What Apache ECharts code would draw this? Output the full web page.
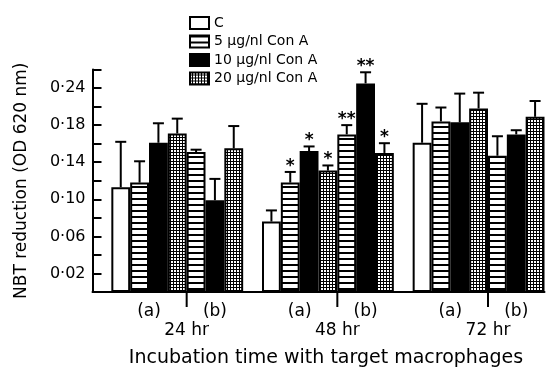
<!DOCTYPE html>
<html><head><meta charset="utf-8">
<script src="https://cdn.jsdelivr.net/npm/echarts@6/dist/echarts.min.js"></script>
<style>html,body{margin:0;padding:0;background:#fff}#c{width:546px;height:373px}</style>
</head><body><div id="c"></div>
<script>
// ---------- data ----------
const timeGroups = ['24 hr', '48 hr', '72 hr'];
const subGroups = ['(a)', '(b)'];
const seriesNames = ['C', '5 \u03bcg/nl Con A', '10 \u03bcg/nl Con A', '20 \u03bcg/nl Con A'];
// order of subgroups: 24a, 24b, 48a, 48b, 72a, 72b
const valC  = [0.113, null, 0.076, null, 0.161, null];
const val5  = [0.118, 0.151, 0.118, 0.170, 0.184, 0.147];
const val10 = [0.161, 0.099, 0.152, 0.225, 0.183, 0.170];
const val20 = [0.171, 0.155, 0.131, 0.150, 0.198, 0.189];
const errC  = [0.049, null, 0.012, null, 0.042, null];
const err5  = [0.023, 0.0025, 0.0115, 0.010, 0.015, 0.021];
const err10 = [0.021, 0.023, 0.005, 0.012, 0.031, 0.0045];
const err20 = [0.016, 0.024, 0.0055, 0.0105, 0.017, 0.017];
const sigC  = ['', '', '', '', '', ''];
const sig5  = ['', '', '*', '**', '', ''];
const sig10 = ['', '', '*', '**', '', ''];
const sig20 = ['', '', '*', '*', '', ''];
const tickValues = [0.02, 0.06, 0.10, 0.14, 0.18, 0.22];
const tickLabels = ['0\u00b702', '0\u00b706', '0\u00b710', '0\u00b714', '0\u00b718', '0\u00b724'];
const yAxisTitle = 'NBT reduction (OD 620 nm)';
const xAxisTitle = 'Incubation time with target macrophages';

// ---------- layout helpers ----------
const FONT = 'DejaVu Sans';
const SLOTS_PER_GROUP = 8; // one empty slot, 4 bars in (a), 3 bars in (b)
const values = [valC, val5, val10, val20];
const errors = [errC, err5, err10, err20];
const sigs = [sigC, sig5, sig10, sig20];
function slotOf(s, sub) {
  const g = Math.floor(sub / 2), part = sub % 2;
  return g * SLOTS_PER_GROUP + (part === 0 ? 1 + s : 4 + s);
}
const nSlots = timeGroups.length * SLOTS_PER_GROUP;
const categories = [];
for (let i = 0; i < nSlots; i++) categories.push('s' + i);

function pattern(kind) {
  const c = document.createElement('canvas');
  const x = c.getContext('2d');
  if (kind === 'stripe') {
    c.width = 4; c.height = 6;
    x.fillStyle = '#fff'; x.fillRect(0, 0, 4, 6);
    x.fillStyle = '#000'; x.fillRect(0, 0, 4, 2);
  } else {
    c.width = 3; c.height = 3;
    x.fillStyle = '#000'; x.fillRect(0, 0, 3, 3);
    x.fillStyle = '#fff'; x.fillRect(0, 0, 2, 2);
  }
  return { image: c, repeat: 'repeat' };
}
const fills = ['#ffffff', pattern('stripe'), '#000000', pattern('grid')];

const barSeries = seriesNames.map((name, s) => {
  const data = new Array(nSlots).fill(null);
  values[s].forEach((v, sub) => { if (v != null) data[slotOf(s, sub)] = v; });
  return {
    type: 'bar', name, data, barWidth: '100%', barGap: '-100%',
    itemStyle: { color: fills[s], borderColor: '#000', borderWidth: 2 },
    z: 2, animation: false
  };
});

const errItems = [];
values.forEach((arr, s) => arr.forEach((v, sub) => {
  if (v != null) errItems.push({ value: [slotOf(s, sub), v, errors[s][sub]], sig: sigs[s][sub] });
}));

const labelItems = [];
timeGroups.forEach((t, g) => {
  labelItems.push({ value: [g * 8 + 1, g * 8 + 4, 0], kind: 'sub', text: subGroups[0] });
  labelItems.push({ value: [g * 8 + 5, g * 8 + 7, 0], kind: 'sub', text: subGroups[1] });
  labelItems.push({ value: [g * 8 + 4, g * 8 + 5, 0], kind: 'group', text: t });
});

const chart = echarts.init(document.getElementById('c'), null, { renderer: 'canvas' });
chart.setOption({
  animation: false,
  backgroundColor: '#fff',
  textStyle: { fontFamily: FONT, color: '#000' },
  grid: { left: 92.5, right: 1.5, top: 69.5, bottom: 80.5, containLabel: false },
  legend: {
    orient: 'vertical', left: 184, top: 11, icon: 'rect',
    itemWidth: 19, itemHeight: 12, itemGap: 4.5,
    data: seriesNames,
    textStyle: { fontFamily: FONT, fontSize: 14, color: '#000', lineHeight: 14 },
    itemStyle: { borderColor: '#000', borderWidth: 2 }
  },
  xAxis: {
    type: 'category', data: categories, boundaryGap: true,
    axisLine: { lineStyle: { color: '#000', width: 2 } },
    axisTick: { show: false }, axisLabel: { show: false },
    name: xAxisTitle, nameLocation: 'middle', nameGap: 57,
    nameTextStyle: { fontFamily: FONT, fontSize: 19, color: '#000', padding: [0, 0, 0, 15] }
  },
  yAxis: {
    type: 'value', min: 0, max: 0.24, interval: 0.02,
    name: yAxisTitle, nameLocation: 'middle', nameGap: 62,
    nameTextStyle: { fontFamily: FONT, fontSize: 17, color: '#000' },
    axisLine: { show: true, lineStyle: { color: '#000', width: 2 } },
    axisTick: { show: true, inside: true, length: 9, lineStyle: { color: '#000', width: 2 } },
    splitLine: { show: false },
    axisLabel: {
      margin: 7, fontFamily: FONT, fontSize: 16, color: '#000',
      formatter: v => { const i = tickValues.findIndex(t => Math.abs(t - v) < 1e-6); return i >= 0 ? tickLabels[i] : ''; }
    }
  },
  series: barSeries.concat([
    {
      type: 'custom', name: 'errors', z: 5, clip: false, animation: false,
      encode: { x: 0, y: 1 }, data: errItems.map(d => d.value),
      renderItem: (params, api) => {
        const item = errItems[params.dataIndex];
        const slot = api.value(0), v = api.value(1), e = api.value(2);
        const p0 = api.coord([slot, v]), p1 = api.coord([slot, v + e]);
        const half = 5.5;
        const ch = [
          { type: 'line', shape: { x1: p0[0], y1: p0[1], x2: p1[0], y2: p1[1] }, style: { stroke: '#000', lineWidth: 2 } },
          { type: 'line', shape: { x1: p1[0] - half, y1: p1[1], x2: p1[0] + half, y2: p1[1] }, style: { stroke: '#000', lineWidth: 2 } }
        ];
        if (item.sig) ch.push({ type: 'text', style: { text: item.sig, x: p1[0], y: p1[1] + 3, align: 'center', verticalAlign: 'bottom', font: 'bold 17px "DejaVu Sans"', fill: '#000' } });
        return { type: 'group', children: ch };
      }
    },
    {
      type: 'custom', name: 'grouplabels', z: 5, clip: false, animation: false, silent: true,
      encode: { x: 0, y: 2 }, data: labelItems.map(d => d.value),
      renderItem: (params, api) => {
        const item = labelItems[params.dataIndex];
        const a = api.coord([api.value(0), 0]), b = api.coord([api.value(1), 0]);
        const cx = (a[0] + b[0]) / 2, y0 = a[1];
        if (item.kind === 'sub') {
          return { type: 'text', style: { text: item.text, x: cx, y: y0 + 20, align: 'center', verticalAlign: 'middle', font: '17px "DejaVu Sans"', fill: '#000' } };
        }
        return { type: 'group', children: [
          { type: 'line', shape: { x1: cx, y1: y0, x2: cx, y2: y0 + 15 }, style: { stroke: '#000', lineWidth: 2 } },
          { type: 'text', style: { text: item.text, x: cx, y: y0 + 39, align: 'center', verticalAlign: 'middle', font: '17px "DejaVu Sans"', fill: '#000' } }
        ] };
      }
    }
  ])
});
</script></body></html>
